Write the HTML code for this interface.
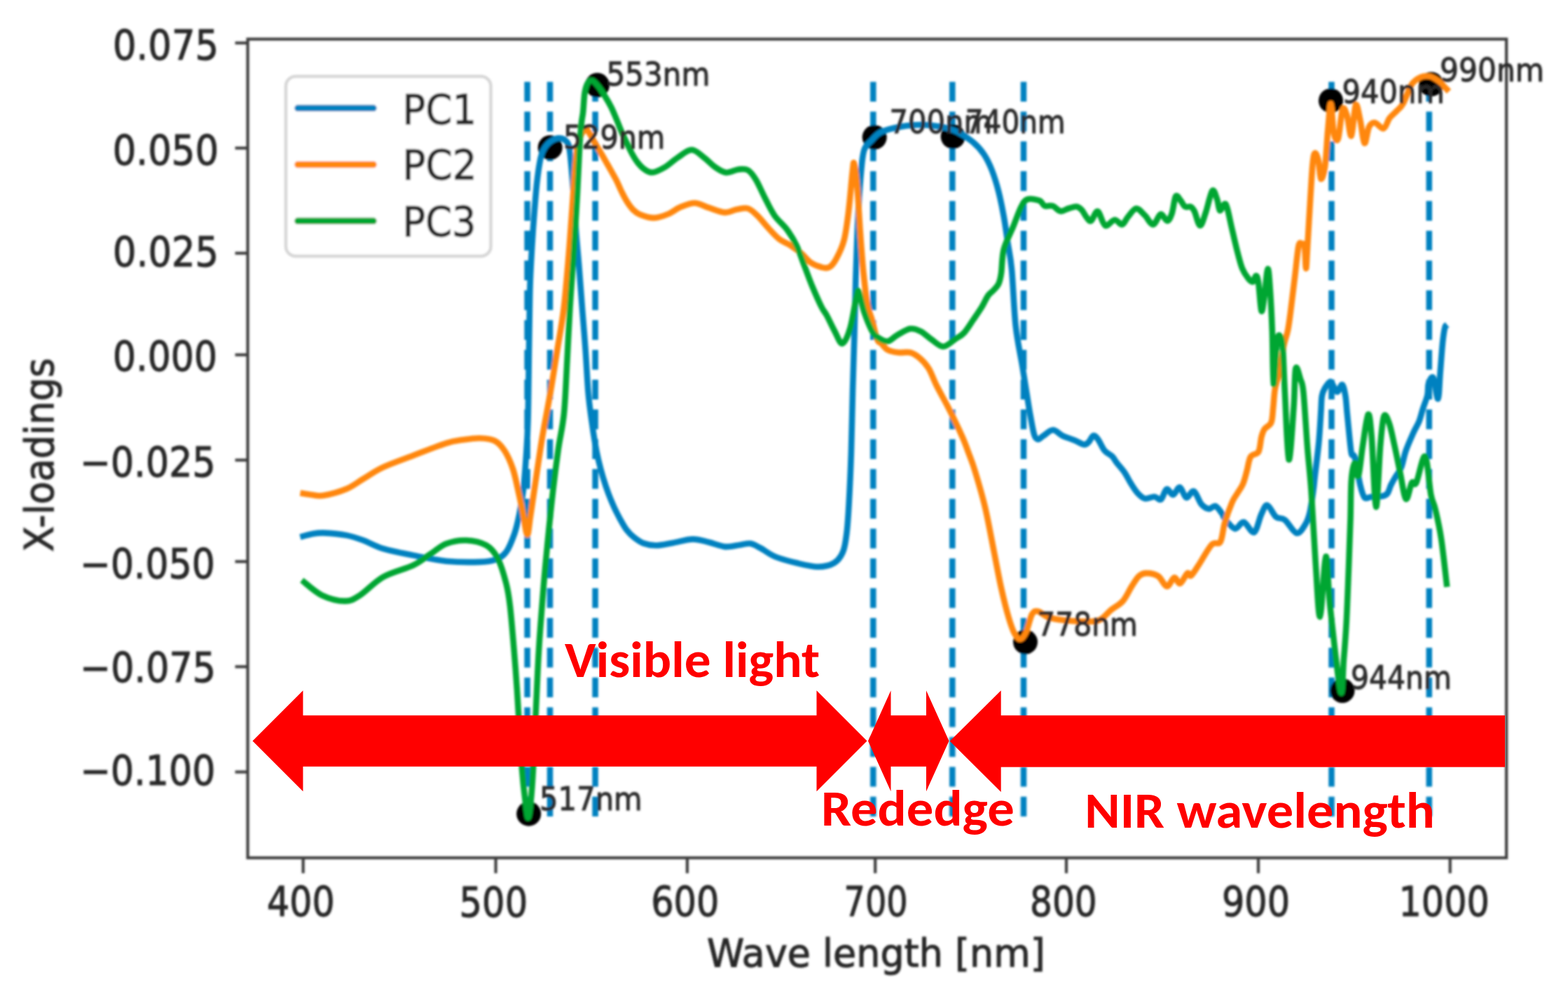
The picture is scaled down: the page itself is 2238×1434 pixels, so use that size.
<!DOCTYPE html>
<html><head><meta charset="utf-8"><title>X-loadings</title>
<style>html,body{margin:0;padding:0;background:#fff;}body{width:2238px;height:1434px;overflow:hidden;}svg{display:block;}</style>
</head><body>
<svg width="2238" height="1434" viewBox="0 0 2238 1434">
<defs><filter id="bl" x="-2%" y="-2%" width="104%" height="104%"><feGaussianBlur stdDeviation="1.5"/></filter></defs>
<rect width="2238" height="1434" fill="#fff"/>
<g filter="url(#bl)">
<line x1="752.6" y1="1165" x2="752.6" y2="114" stroke="#0581c0" stroke-width="8.5" stroke-dasharray="28.2 14.3"/>
<line x1="785.0" y1="1165" x2="785.0" y2="114" stroke="#0581c0" stroke-width="8.5" stroke-dasharray="28.2 14.3"/>
<line x1="849.6" y1="1165" x2="849.6" y2="114" stroke="#0581c0" stroke-width="8.5" stroke-dasharray="28.2 14.3"/>
<line x1="1246.3" y1="1165" x2="1246.3" y2="114" stroke="#0581c0" stroke-width="8.5" stroke-dasharray="28.2 14.3"/>
<line x1="1359.3" y1="1165" x2="1359.3" y2="114" stroke="#0581c0" stroke-width="8.5" stroke-dasharray="28.2 14.3"/>
<line x1="1461.0" y1="1165" x2="1461.0" y2="114" stroke="#0581c0" stroke-width="8.5" stroke-dasharray="28.2 14.3"/>
<line x1="1900.5" y1="1165" x2="1900.5" y2="114" stroke="#0581c0" stroke-width="8.5" stroke-dasharray="28.2 14.3"/>
<line x1="2039.8" y1="1165" x2="2039.8" y2="114" stroke="#0581c0" stroke-width="8.5" stroke-dasharray="28.2 14.3"/>
<circle cx="754.7" cy="1161.2" r="17.5" fill="#000"/>
<circle cx="785.2" cy="210.5" r="17.5" fill="#000"/>
<circle cx="852.5" cy="121.5" r="17.5" fill="#000"/>
<circle cx="1248.2" cy="195.9" r="17.5" fill="#000"/>
<circle cx="1360.2" cy="194.9" r="17.5" fill="#000"/>
<circle cx="1463.5" cy="916" r="17.5" fill="#000"/>
<circle cx="1899.5" cy="143.7" r="17.5" fill="#000"/>
<circle cx="1916" cy="985.5" r="17.5" fill="#000"/>
<circle cx="2042.7" cy="120.2" r="17.5" fill="#000"/>
<path d="M428.5,766.3 C431.2,765.6 439.5,763.0 445.0,762.0 C450.5,761.0 453.3,760.1 461.6,760.4 C469.9,760.7 485.3,762.1 494.8,763.9 C504.3,765.7 509.9,767.8 518.6,771.0 C527.3,774.2 535.1,779.3 547.0,782.9 C558.9,786.5 574.7,789.4 589.7,792.4 C604.7,795.4 621.3,799.1 637.1,800.7 C652.9,802.3 672.6,802.3 684.5,801.9 C696.4,801.5 701.9,800.7 708.2,798.3 C714.5,795.9 718.1,793.7 722.5,787.6 C726.9,781.5 731.2,770.3 734.3,761.5 C737.4,752.7 738.9,745.2 741.0,735.0 C743.1,724.8 745.1,714.2 746.8,700.0 C748.5,685.8 749.9,666.7 751.0,650.0 C752.1,633.3 752.8,625.0 753.5,600.0 C754.2,575.0 754.6,526.7 755.0,500.0 C755.4,473.3 755.6,456.7 755.9,440.0 C756.2,423.3 756.2,415.0 756.8,400.0 C757.4,385.0 758.4,366.7 759.4,350.0 C760.4,333.3 761.7,315.0 762.9,300.0 C764.1,285.0 765.1,271.7 766.4,260.0 C767.7,248.3 769.3,237.5 770.7,230.0 C772.1,222.5 773.1,219.2 775.0,215.0 C776.9,210.8 779.4,207.7 782.0,205.0 C784.6,202.3 788.1,200.3 790.7,199.0 C793.3,197.7 795.3,197.0 797.7,197.0 C800.1,197.0 802.7,197.3 805.0,199.0 C807.3,200.7 810.0,201.6 811.7,207.4 C813.4,213.2 814.0,222.0 815.1,233.6 C816.2,245.2 817.4,261.0 818.6,277.0 C819.8,293.0 820.8,312.1 822.1,329.4 C823.4,346.7 825.0,362.6 826.5,381.0 C828.0,399.4 829.5,420.2 831.0,440.0 C832.5,459.8 834.3,480.0 835.7,500.0 C837.1,520.0 838.2,543.3 839.6,560.0 C841.0,576.7 842.8,588.0 844.4,600.0 C846.0,612.0 847.7,622.8 849.3,632.2 C850.9,641.6 852.2,648.3 854.1,656.3 C856.0,664.3 858.1,672.4 860.5,680.4 C862.9,688.4 865.8,697.3 868.5,704.5 C871.2,711.7 873.8,717.8 876.5,723.7 C879.2,729.6 881.6,734.4 884.6,739.8 C887.6,745.1 890.7,751.2 894.2,755.8 C897.7,760.3 901.4,763.9 905.4,767.1 C909.4,770.3 913.0,773.2 918.3,775.1 C923.5,777.0 929.9,778.4 936.9,778.3 C943.9,778.2 951.5,776.2 960.1,774.7 C968.7,773.2 980.1,769.5 988.7,769.4 C997.3,769.2 1004.1,772.0 1011.9,773.8 C1019.6,775.6 1027.8,779.5 1035.2,780.1 C1042.7,780.7 1050.6,778.1 1056.6,777.4 C1062.5,776.6 1066.1,774.9 1070.9,775.6 C1075.7,776.4 1079.2,778.8 1085.2,781.9 C1091.2,785.0 1098.0,790.8 1106.6,794.4 C1115.2,798.0 1126.9,800.9 1137.0,803.3 C1147.1,805.7 1158.5,808.7 1167.4,808.7 C1176.3,808.7 1184.6,806.9 1190.6,803.3 C1196.6,799.7 1200.2,794.4 1203.2,787.2 C1206.2,780.1 1207.1,771.6 1208.5,760.4 C1209.9,749.2 1210.5,739.1 1211.6,720.0 C1212.7,700.9 1214.0,672.8 1214.9,645.5 C1215.8,618.2 1216.3,583.6 1217.1,556.0 C1217.8,528.4 1218.7,505.9 1219.4,480.0 C1220.1,454.1 1220.4,429.0 1221.3,400.9 C1222.2,372.8 1223.3,337.7 1224.6,311.6 C1225.9,285.6 1227.6,261.0 1229.1,244.6 C1230.6,228.2 1231.0,220.9 1233.6,213.4 C1236.2,205.9 1240.5,203.9 1244.5,199.7 C1248.5,195.5 1250.7,191.6 1257.6,188.4 C1264.5,185.2 1276.5,182.5 1285.9,180.8 C1295.3,179.1 1304.7,178.0 1314.1,178.0 C1323.5,178.0 1333.6,179.1 1342.4,180.8 C1351.2,182.5 1359.0,184.6 1366.8,188.4 C1374.6,192.2 1383.1,198.1 1389.4,203.4 C1395.7,208.7 1400.1,213.8 1404.5,220.4 C1408.9,227.0 1412.3,234.2 1415.8,243.0 C1419.2,251.8 1422.4,262.1 1425.2,273.1 C1428.0,284.1 1430.5,296.6 1432.7,308.8 C1434.9,321.0 1436.5,333.9 1438.4,346.5 C1440.3,359.1 1442.1,364.3 1444.0,384.1 C1445.9,403.9 1447.2,442.4 1449.7,465.3 C1452.2,488.2 1456.3,504.5 1459.1,521.8 C1461.9,539.0 1464.7,556.9 1466.6,568.8 C1468.5,580.7 1469.1,584.8 1470.7,593.4 C1472.3,602.0 1474.3,614.6 1476.1,620.2 C1477.9,625.8 1479.2,626.7 1481.4,626.9 C1483.6,627.1 1485.9,623.8 1489.5,621.6 C1493.1,619.4 1498.4,613.5 1502.9,613.5 C1507.4,613.5 1511.2,619.1 1516.3,621.6 C1521.4,624.1 1528.6,626.2 1533.7,628.3 C1538.8,630.4 1543.8,633.9 1547.1,634.3 C1550.4,634.7 1551.6,633.0 1553.8,630.9 C1556.0,628.8 1558.3,622.3 1560.5,621.6 C1562.7,620.9 1564.5,623.3 1567.2,626.9 C1569.9,630.5 1573.2,639.0 1576.6,643.0 C1579.9,647.0 1584.4,648.1 1587.3,651.0 C1590.2,653.9 1591.1,656.6 1594.0,660.4 C1596.9,664.2 1601.4,668.9 1604.8,673.8 C1608.2,678.7 1611.1,685.0 1614.2,689.9 C1617.3,694.8 1620.2,699.7 1623.5,703.3 C1626.8,706.9 1630.3,710.5 1634.3,711.4 C1638.3,712.3 1643.9,708.5 1647.7,708.7 C1651.5,708.9 1654.1,714.5 1657.0,712.7 C1659.9,710.9 1662.2,699.1 1665.1,698.0 C1668.0,696.9 1671.4,706.5 1674.5,706.0 C1677.6,705.5 1680.8,694.6 1683.9,695.3 C1687.0,696.0 1689.9,709.0 1693.2,710.0 C1696.5,711.0 1700.4,699.4 1704.0,701.0 C1707.6,702.6 1711.1,715.2 1714.7,719.4 C1718.3,723.6 1722.1,725.6 1725.4,726.1 C1728.8,726.6 1731.7,721.0 1734.8,722.1 C1737.9,723.2 1742.0,729.8 1744.2,732.8 C1746.4,735.8 1744.9,736.4 1748.0,740.0 C1751.1,743.6 1758.2,753.6 1762.7,754.4 C1767.2,755.2 1770.8,744.1 1775.3,745.0 C1779.8,745.9 1785.7,761.5 1789.9,759.6 C1794.1,757.7 1797.2,740.0 1800.4,733.5 C1803.6,727.0 1805.3,720.2 1808.8,720.9 C1812.3,721.6 1817.1,734.1 1821.3,737.6 C1825.5,741.1 1829.0,737.9 1833.9,741.8 C1838.8,745.6 1845.7,759.7 1850.6,760.7 C1855.5,761.8 1860.0,753.0 1863.1,748.1 C1866.2,743.2 1867.5,739.4 1869.4,731.4 C1871.3,723.4 1873.3,708.6 1874.5,700.0 C1875.7,691.4 1875.4,691.4 1876.7,680.0 C1878.0,668.6 1880.9,646.6 1882.3,631.6 C1883.7,616.6 1884.5,601.1 1885.2,590.0 C1886.0,578.9 1885.8,571.1 1886.8,565.0 C1887.8,558.9 1889.2,556.9 1891.2,553.5 C1893.2,550.1 1896.8,544.5 1899.0,544.5 C1901.2,544.5 1902.9,551.1 1904.6,553.5 C1906.3,555.9 1907.2,559.8 1909.1,559.0 C1911.0,558.2 1913.9,548.1 1915.8,549.0 C1917.7,549.9 1919.2,558.3 1920.3,564.6 C1921.4,570.9 1921.8,579.5 1922.5,587.0 C1923.2,594.5 1924.0,601.9 1924.7,609.3 C1925.4,616.7 1926.2,625.1 1926.9,631.6 C1927.7,638.1 1928.1,644.7 1929.2,648.3 C1930.3,651.9 1931.8,645.7 1933.8,653.0 C1935.8,660.3 1939.1,682.5 1941.4,692.0 C1943.7,701.5 1945.0,707.2 1947.6,710.0 C1950.2,712.8 1952.8,709.3 1957.0,709.0 C1961.2,708.7 1968.8,708.8 1972.7,708.0 C1976.6,707.2 1978.2,706.7 1980.3,704.0 C1982.4,701.3 1983.4,695.9 1985.3,692.0 C1987.2,688.1 1989.1,684.8 1991.6,680.6 C1994.0,676.4 1997.5,673.3 2000.0,667.0 C2002.5,660.7 2003.8,651.0 2006.7,642.8 C2009.6,634.6 2014.1,624.7 2017.2,617.7 C2020.3,610.7 2023.4,606.5 2025.6,600.9 C2027.8,595.3 2028.6,590.3 2030.6,584.2 C2032.5,578.1 2035.9,570.2 2037.3,564.1 C2038.7,558.0 2037.6,551.6 2039.0,547.4 C2040.4,543.2 2043.5,535.4 2045.7,539.0 C2047.9,542.6 2050.7,570.5 2052.4,569.1 C2054.1,567.7 2054.6,544.0 2055.7,530.6 C2056.8,517.2 2058.0,499.4 2059.1,488.8 C2060.2,478.2 2061.3,471.2 2062.4,467.0 C2063.5,462.8 2065.2,464.2 2065.8,463.7" fill="none" stroke="#0581c0" stroke-width="8.6" stroke-linejoin="round" stroke-linecap="butt"/>
<path d="M428.5,703.5 C431.2,703.9 439.5,705.4 445.0,706.0 C450.5,706.6 453.3,708.4 461.6,707.0 C469.9,705.6 485.3,701.5 494.8,697.5 C504.3,693.5 509.9,688.4 518.6,683.3 C527.3,678.2 535.1,672.2 547.0,666.7 C558.9,661.2 574.7,655.8 589.7,650.1 C604.7,644.4 625.2,636.0 637.1,632.3 C649.0,628.5 652.9,628.8 660.8,627.6 C668.7,626.4 677.0,625.0 684.5,625.2 C692.0,625.4 700.0,625.8 705.9,628.8 C711.8,631.8 715.8,636.3 720.1,643.0 C724.5,649.7 728.9,659.9 732.0,669.0 C735.1,678.1 736.7,687.3 739.0,697.5 C741.3,707.7 743.8,719.1 746.0,730.0 C748.2,740.9 750.7,761.8 752.5,763.0 C754.3,764.2 755.3,747.5 757.0,737.0 C758.7,726.5 759.7,718.6 762.5,700.0 C765.3,681.4 769.9,648.8 773.7,625.5 C777.6,602.2 782.0,580.9 785.6,560.0 C789.2,539.1 792.1,520.0 795.3,500.0 C798.5,480.0 802.0,462.6 804.7,440.0 C807.4,417.4 809.7,388.4 811.7,364.2 C813.7,339.9 815.5,313.5 816.9,294.5 C818.3,275.5 818.9,263.2 820.0,250.0 C821.1,236.8 822.2,224.0 823.5,215.0 C824.8,206.0 826.4,200.8 828.0,196.0 C829.6,191.2 831.5,188.4 833.0,186.5 C834.5,184.6 835.6,183.9 837.0,184.5 C838.4,185.1 839.0,186.5 841.2,190.0 C843.4,193.5 847.1,200.4 850.1,205.5 C853.1,210.6 856.0,215.4 859.0,220.5 C862.0,225.6 864.5,230.1 867.9,236.0 C871.2,241.9 875.9,249.9 879.1,256.0 C882.3,262.1 884.3,267.6 886.9,272.8 C889.5,278.0 891.9,283.0 894.7,287.4 C897.5,291.8 900.4,296.0 903.5,299.1 C906.6,302.2 908.2,304.0 913.2,306.0 C918.2,308.0 926.9,311.0 933.7,310.9 C940.5,310.8 947.5,308.0 953.8,305.4 C960.1,302.8 965.3,297.9 971.6,295.3 C977.9,292.7 985.0,289.5 991.7,289.7 C998.4,289.9 1004.7,294.2 1011.8,296.4 C1018.9,298.6 1027.4,302.7 1034.1,303.1 C1040.8,303.5 1046.4,299.6 1052.0,298.7 C1057.6,297.8 1062.8,296.0 1067.6,297.5 C1072.4,299.0 1076.2,303.0 1081.0,307.6 C1085.8,312.2 1091.4,319.8 1096.6,325.4 C1101.8,331.0 1107.0,337.0 1112.2,341.1 C1117.4,345.2 1122.7,346.6 1127.9,350.0 C1133.1,353.4 1138.7,357.1 1143.5,361.2 C1148.3,365.3 1152.1,371.2 1156.9,374.6 C1161.7,378.0 1168.0,380.2 1172.5,381.3 C1177.0,382.4 1180.2,383.2 1183.7,381.3 C1187.2,379.4 1189.9,376.0 1193.4,369.6 C1196.9,363.2 1201.6,354.4 1204.6,342.9 C1207.6,331.4 1209.3,316.8 1211.3,300.4 C1213.3,284.0 1215.5,255.8 1216.8,244.6 C1218.1,233.4 1218.0,229.8 1219.1,233.5 C1220.2,237.2 1222.0,250.3 1223.5,267.0 C1225.0,283.7 1226.5,313.4 1228.0,333.9 C1229.5,354.3 1230.8,372.9 1232.5,389.7 C1234.2,406.4 1236.0,423.2 1238.0,434.4 C1240.0,445.6 1242.4,448.4 1244.7,456.7 C1247.0,465.0 1249.8,478.5 1252.0,484.1 C1254.2,489.7 1255.6,487.7 1258.1,490.2 C1260.6,492.7 1263.1,497.1 1267.1,499.2 C1271.1,501.3 1276.8,502.4 1282.1,503.0 C1287.4,503.6 1294.1,501.8 1299.1,503.0 C1304.1,504.2 1307.8,506.8 1312.2,510.5 C1316.6,514.2 1321.3,518.9 1325.4,525.5 C1329.5,532.1 1332.3,541.2 1336.7,550.0 C1341.1,558.8 1347.4,569.8 1351.8,578.3 C1356.2,586.8 1359.3,593.0 1363.1,600.8 C1366.9,608.6 1371.2,617.9 1374.4,625.3 C1377.6,632.7 1379.2,637.3 1382.0,645.0 C1384.8,652.7 1387.4,658.3 1391.4,671.4 C1395.4,684.5 1401.5,704.5 1406.0,723.7 C1410.5,742.9 1414.8,767.3 1418.6,786.5 C1422.4,805.7 1425.5,823.1 1429.0,838.8 C1432.5,854.5 1436.3,869.8 1439.5,880.6 C1442.7,891.4 1445.1,898.5 1447.9,903.7 C1450.7,908.9 1453.5,912.4 1456.3,912.0 C1459.1,911.6 1461.8,907.5 1464.6,901.6 C1467.4,895.7 1470.2,881.4 1473.0,876.5 C1475.8,871.6 1477.6,871.6 1481.4,872.3 C1485.2,873.0 1490.1,878.5 1496.0,880.6 C1501.9,882.7 1508.2,883.8 1516.9,884.8 C1525.6,885.8 1539.6,886.9 1548.3,886.9 C1557.0,886.9 1562.9,887.6 1569.2,884.8 C1575.5,882.0 1580.4,874.7 1586.0,870.2 C1591.6,865.7 1597.8,863.2 1602.7,857.6 C1607.6,852.0 1611.5,842.6 1615.3,836.7 C1619.1,830.8 1622.2,825.1 1625.7,822.0 C1629.2,818.9 1631.7,817.9 1636.2,817.9 C1640.7,817.9 1648.0,818.9 1652.9,822.0 C1657.8,825.1 1661.7,836.4 1665.5,836.7 C1669.3,837.1 1672.9,824.8 1676.0,824.1 C1679.1,823.4 1681.2,833.5 1684.3,832.5 C1687.4,831.5 1692.2,819.8 1694.8,817.9 C1697.4,816.0 1697.4,823.2 1700.0,821.3 C1702.6,819.4 1705.6,814.0 1710.5,806.7 C1715.4,799.4 1724.1,783.0 1729.3,777.4 C1734.5,771.8 1738.7,778.4 1741.8,773.2 C1744.9,768.0 1745.3,755.4 1748.1,746.0 C1750.9,736.6 1755.7,723.6 1758.6,716.7 C1761.5,709.8 1763.0,709.0 1765.6,704.6 C1768.2,700.2 1771.7,696.0 1774.0,690.6 C1776.3,685.2 1777.7,679.0 1779.5,672.5 C1781.3,666.0 1782.3,656.2 1785.1,651.6 C1787.9,647.0 1793.8,649.2 1796.3,644.6 C1798.8,640.0 1799.0,629.1 1800.4,623.7 C1801.8,618.4 1802.3,616.0 1804.6,612.5 C1806.9,609.0 1812.3,607.9 1814.4,602.8 C1816.5,597.7 1816.3,589.9 1817.2,581.8 C1818.1,573.7 1818.4,563.1 1820.0,554.0 C1821.6,544.9 1824.9,537.6 1827.0,527.4 C1829.1,517.1 1830.7,501.7 1832.5,492.5 C1834.3,483.3 1836.4,479.9 1838.0,472.0 C1839.6,464.1 1840.3,458.2 1842.0,445.0 C1843.7,431.8 1846.5,408.4 1848.4,392.7 C1850.3,377.0 1851.9,358.4 1853.5,351.0 C1855.1,343.6 1856.6,347.8 1858.0,348.0 C1859.4,348.2 1861.0,346.2 1862.0,352.0 C1863.0,357.8 1863.3,382.5 1864.0,383.0 C1864.7,383.5 1865.0,371.5 1866.0,355.0 C1867.0,338.5 1868.9,304.2 1870.2,284.0 C1871.5,263.8 1872.5,244.4 1873.6,233.5 C1874.7,222.6 1875.5,219.0 1876.9,218.4 C1878.3,217.8 1880.6,224.0 1882.0,230.2 C1883.4,236.3 1883.8,254.0 1885.3,255.3 C1886.8,256.6 1889.4,249.4 1891.1,237.8 C1892.8,226.2 1893.9,200.5 1895.3,185.5 C1896.7,170.5 1898.1,147.1 1899.5,147.8 C1900.9,148.5 1902.0,181.3 1903.7,189.7 C1905.4,198.1 1907.8,203.6 1909.9,198.0 C1912.0,192.4 1914.1,161.8 1916.2,156.2 C1918.3,150.6 1920.4,158.3 1922.5,164.6 C1924.6,170.9 1926.7,196.3 1928.8,193.9 C1930.9,191.5 1932.9,153.7 1935.0,149.9 C1937.1,146.1 1939.2,161.8 1941.3,170.9 C1943.4,180.0 1945.5,202.6 1947.6,204.3 C1949.7,206.0 1951.5,186.2 1953.9,181.3 C1956.3,176.4 1958.7,174.7 1962.2,175.0 C1965.7,175.3 1971.3,184.4 1974.8,183.4 C1978.3,182.4 1980.0,173.0 1983.1,168.8 C1986.2,164.6 1990.3,161.8 1993.6,158.3 C1996.8,154.8 1999.0,154.2 2002.6,147.8 C2006.2,141.5 2010.9,126.5 2015.1,120.2 C2019.3,113.9 2023.5,112.1 2027.7,110.2 C2031.9,108.3 2036.0,108.1 2040.2,108.9 C2044.4,109.7 2049.4,112.9 2052.8,115.2 C2056.2,117.5 2058.0,120.2 2060.5,122.7 C2063.0,125.2 2066.8,129.2 2068.0,130.5" fill="none" stroke="#ff870e" stroke-width="8.6" stroke-linejoin="round" stroke-linecap="butt"/>
<path d="M430.8,827.9 C435.6,831.5 449.0,844.3 459.3,849.3 C469.6,854.2 483.4,857.6 492.5,857.6 C501.6,857.6 504.7,855.0 513.8,849.3 C522.9,843.6 534.4,830.3 547.0,823.2 C559.6,816.1 578.6,811.9 589.7,806.6 C600.8,801.3 605.5,796.3 613.4,791.2 C621.3,786.1 628.4,779.2 637.1,775.8 C645.8,772.4 656.1,770.6 665.6,771.0 C675.1,771.4 686.5,773.8 694.0,778.1 C701.5,782.5 705.9,788.0 710.6,797.1 C715.4,806.2 719.6,821.4 722.5,832.7 C725.4,844.0 726.2,849.5 728.0,865.0 C729.8,880.5 731.8,905.5 733.5,925.5 C735.2,945.5 736.1,956.5 738.0,985.0 C739.9,1013.5 743.0,1070.0 745.0,1096.7 C747.0,1123.4 748.5,1133.3 750.0,1145.0 C751.5,1156.7 752.5,1167.0 753.7,1167.0 C755.0,1167.0 756.3,1156.7 757.5,1145.0 C758.7,1133.3 759.7,1120.9 761.0,1096.7 C762.3,1072.5 764.1,1028.5 765.5,1000.0 C766.9,971.5 767.5,952.8 769.2,925.5 C770.9,898.2 773.8,862.1 775.9,836.2 C778.0,810.3 779.8,792.7 782.0,770.0 C784.2,747.3 786.8,721.7 789.3,700.0 C791.8,678.3 794.4,658.3 797.0,640.0 C799.6,621.7 802.9,611.0 805.0,590.0 C807.1,569.0 808.1,538.9 809.5,513.9 C810.9,488.9 811.9,464.9 813.4,440.0 C814.9,415.1 816.9,391.4 818.6,364.2 C820.4,337.0 822.5,303.1 823.9,277.0 C825.3,250.9 826.3,224.4 827.3,207.4 C828.3,190.4 829.2,182.9 830.0,175.0 C830.8,167.1 831.5,167.0 832.2,160.0 C833.0,153.0 833.4,139.9 834.5,133.0 C835.6,126.1 837.0,121.5 838.9,118.5 C840.8,115.5 843.0,114.2 845.6,115.1 C848.2,116.0 851.6,120.3 854.6,124.0 C857.6,127.7 860.5,132.6 863.5,137.4 C866.5,142.2 869.6,147.4 872.4,153.0 C875.2,158.6 877.6,164.8 880.2,170.9 C882.8,177.1 885.4,184.0 888.0,189.9 C890.6,195.8 893.4,201.6 895.8,206.6 C898.2,211.6 900.1,215.7 902.5,220.0 C904.9,224.3 907.6,228.8 910.4,232.3 C913.2,235.8 915.8,238.9 919.3,241.2 C922.8,243.5 926.4,246.5 931.4,246.0 C936.4,245.5 943.3,241.9 949.3,238.4 C955.2,234.9 960.8,229.1 967.1,225.0 C973.4,220.9 980.9,213.8 987.2,213.8 C993.5,213.8 999.5,220.9 1005.1,225.0 C1010.7,229.1 1015.5,234.9 1020.7,238.4 C1025.9,241.9 1030.7,245.6 1036.3,246.2 C1041.9,246.8 1049.0,242.2 1054.2,241.7 C1059.4,241.1 1063.5,240.5 1067.6,242.9 C1071.7,245.3 1074.7,249.6 1078.8,256.3 C1082.9,263.0 1087.6,274.4 1092.1,283.0 C1096.5,291.6 1100.3,300.2 1105.5,307.6 C1110.7,315.1 1118.2,320.6 1123.4,327.7 C1128.6,334.8 1132.7,341.4 1136.8,350.0 C1140.9,358.6 1144.3,369.3 1148.0,379.0 C1151.7,388.7 1155.0,398.2 1159.1,408.0 C1163.2,417.8 1169.0,430.9 1172.5,437.9 C1176.0,444.9 1176.9,444.3 1180.0,450.0 C1183.1,455.7 1187.5,465.6 1191.2,472.3 C1194.9,479.0 1198.6,490.9 1202.3,490.2 C1206.0,489.5 1210.2,479.1 1213.5,467.9 C1216.8,456.7 1220.4,431.8 1222.4,423.2 C1224.5,414.6 1223.9,412.8 1225.8,416.5 C1227.7,420.2 1230.4,436.2 1233.6,445.5 C1236.8,454.8 1241.3,466.2 1244.7,472.3 C1248.1,478.4 1250.2,479.8 1253.9,482.2 C1257.6,484.6 1262.6,487.6 1267.0,487.0 C1271.4,486.4 1274.9,481.5 1280.2,478.5 C1285.5,475.5 1293.4,470.1 1299.1,469.1 C1304.8,468.2 1309.1,470.3 1314.1,472.8 C1319.1,475.3 1323.9,480.5 1329.2,484.1 C1334.5,487.7 1340.4,494.5 1346.1,494.5 C1351.8,494.5 1358.1,487.4 1363.1,484.1 C1368.1,480.8 1371.8,479.4 1376.2,474.7 C1380.6,470.0 1385.3,461.8 1389.4,455.9 C1393.5,449.9 1397.2,444.6 1400.7,439.0 C1404.2,433.4 1407.3,426.1 1410.1,422.0 C1412.9,417.9 1415.2,417.3 1417.7,414.5 C1420.2,411.7 1423.3,409.2 1425.2,405.1 C1427.1,401.0 1427.8,398.2 1429.0,390.0 C1430.2,381.8 1429.9,366.9 1432.7,355.9 C1435.5,344.9 1441.8,333.9 1445.9,323.9 C1450.0,313.9 1453.8,302.3 1457.2,295.7 C1460.7,289.1 1462.2,286.0 1466.6,284.4 C1471.0,282.8 1479.5,284.7 1483.6,286.3 C1487.7,287.9 1488.0,292.6 1491.1,293.8 C1494.2,295.1 1498.6,292.6 1502.4,293.8 C1506.2,295.1 1509.9,300.7 1513.7,301.3 C1517.5,301.9 1521.2,298.6 1525.0,297.5 C1528.8,296.4 1533.2,294.4 1536.3,294.7 C1539.4,295.0 1541.3,296.7 1543.8,299.4 C1546.3,302.1 1549.0,308.1 1551.3,310.7 C1553.6,313.3 1554.8,316.6 1557.4,315.1 C1560.0,313.6 1563.5,300.6 1566.8,301.7 C1570.1,302.8 1573.5,319.8 1577.5,321.8 C1581.5,323.8 1586.9,313.9 1590.9,313.7 C1594.9,313.5 1598.6,321.1 1601.7,320.4 C1604.8,319.7 1606.4,313.5 1609.7,309.7 C1613.0,305.9 1617.8,298.1 1621.8,297.6 C1625.8,297.2 1629.8,303.2 1633.8,307.0 C1637.8,310.8 1642.1,320.6 1645.9,320.4 C1649.7,320.2 1653.2,306.6 1656.6,305.7 C1659.9,304.8 1663.3,315.3 1666.0,315.1 C1668.7,314.9 1670.7,310.1 1672.7,304.3 C1674.7,298.5 1676.1,283.3 1678.1,280.2 C1680.1,277.1 1682.6,283.1 1684.8,285.6 C1687.0,288.1 1689.0,293.4 1691.5,295.0 C1694.0,296.6 1697.3,293.9 1699.5,295.0 C1701.7,296.1 1702.7,297.2 1704.9,301.7 C1707.1,306.2 1710.2,321.6 1712.9,321.8 C1715.6,322.0 1718.1,311.3 1721.0,303.0 C1723.9,294.7 1727.6,275.3 1730.3,272.2 C1733.0,269.1 1735.3,279.5 1737.1,284.2 C1738.9,288.9 1739.3,299.2 1741.1,300.3 C1742.9,301.4 1746.0,291.3 1747.8,290.9 C1749.6,290.4 1750.0,291.6 1751.8,297.6 C1753.6,303.6 1756.0,316.6 1758.5,327.1 C1761.0,337.6 1764.0,351.2 1766.5,360.6 C1769.0,370.0 1770.7,377.4 1773.2,383.4 C1775.7,389.4 1778.8,393.7 1781.3,396.8 C1783.8,399.9 1786.1,402.8 1788.0,402.2 C1789.9,401.6 1791.4,393.1 1792.8,393.5 C1794.2,393.9 1795.0,396.2 1796.3,404.6 C1797.6,413.0 1799.0,440.7 1800.4,443.7 C1801.8,446.7 1803.1,432.8 1804.6,422.8 C1806.1,412.8 1808.1,384.9 1809.5,383.7 C1810.9,382.5 1812.0,401.1 1813.0,415.8 C1814.0,430.5 1815.0,449.5 1815.8,471.6 C1816.6,493.7 1816.7,546.0 1817.9,548.3 C1819.1,550.6 1821.1,496.7 1822.8,485.5 C1824.5,474.3 1826.9,479.0 1828.3,481.3 C1829.7,483.6 1830.2,486.4 1831.1,499.5 C1832.0,512.6 1832.5,534.0 1833.9,560.0 C1835.3,586.0 1837.4,652.2 1839.5,655.8 C1841.6,659.4 1844.9,603.4 1846.5,581.8 C1848.1,560.2 1847.7,532.8 1849.3,526.0 C1850.9,519.2 1854.3,535.6 1856.2,541.3 C1858.1,547.0 1858.8,544.0 1860.4,560.0 C1862.0,576.0 1864.2,614.3 1866.0,637.6 C1867.8,660.9 1869.5,672.2 1871.5,700.0 C1873.5,727.8 1875.7,774.6 1877.8,804.6 C1879.9,834.6 1881.7,881.6 1884.1,879.9 C1886.5,878.1 1890.0,796.2 1892.4,794.1 C1894.8,792.0 1895.2,835.2 1898.7,867.3 C1902.2,899.4 1910.1,974.5 1913.3,986.6 C1916.5,998.7 1916.6,956.4 1918.0,940.0 C1919.4,923.6 1920.5,909.9 1921.7,888.2 C1922.9,866.5 1924.0,834.7 1925.0,810.0 C1926.0,785.3 1926.9,760.7 1927.5,740.0 C1928.1,719.3 1927.8,698.9 1928.8,685.6 C1929.8,672.4 1932.1,661.5 1933.8,660.5 C1935.5,659.5 1936.9,683.5 1938.8,679.3 C1940.7,675.1 1942.8,650.0 1945.1,635.4 C1947.4,620.8 1950.6,593.5 1952.7,591.4 C1954.8,589.3 1955.8,600.8 1957.7,622.8 C1959.6,644.8 1961.9,721.2 1964.0,723.3 C1966.1,725.4 1968.3,657.0 1970.2,635.4 C1972.1,613.8 1973.2,599.1 1975.3,593.9 C1977.4,588.7 1980.3,597.1 1982.8,604.0 C1985.3,610.9 1987.7,623.7 1990.3,635.4 C1992.9,647.1 1995.7,661.5 1998.4,674.2 C2001.1,687.0 2003.9,709.5 2006.7,711.9 C2009.5,714.3 2012.6,692.6 2015.1,688.8 C2017.5,684.9 2018.2,695.1 2021.4,688.8 C2024.6,682.5 2030.5,648.4 2034.0,651.2 C2037.5,654.0 2039.9,693.1 2042.3,705.6 C2044.7,718.1 2046.1,716.0 2048.6,726.5 C2051.0,737.0 2054.2,749.9 2057.0,768.4 C2059.8,786.9 2063.9,825.9 2065.3,837.4" fill="none" stroke="#04a632" stroke-width="8.6" stroke-linejoin="round" stroke-linecap="butt"/>
<rect x="353.6" y="55.8" width="1796.5" height="1168.2" fill="none" stroke="#3c3c3c" stroke-width="4.2"/>
<line x1="335.6" y1="61.3" x2="353.6" y2="61.3" stroke="#3c3c3c" stroke-width="4.2"/>
<line x1="335.6" y1="211.3" x2="353.6" y2="211.3" stroke="#3c3c3c" stroke-width="4.2"/>
<line x1="335.6" y1="361.3" x2="353.6" y2="361.3" stroke="#3c3c3c" stroke-width="4.2"/>
<line x1="335.6" y1="506.3" x2="353.6" y2="506.3" stroke="#3c3c3c" stroke-width="4.2"/>
<line x1="335.6" y1="656.5" x2="353.6" y2="656.5" stroke="#3c3c3c" stroke-width="4.2"/>
<line x1="335.6" y1="801.3" x2="353.6" y2="801.3" stroke="#3c3c3c" stroke-width="4.2"/>
<line x1="335.6" y1="951.3" x2="353.6" y2="951.3" stroke="#3c3c3c" stroke-width="4.2"/>
<line x1="335.6" y1="1101.5" x2="353.6" y2="1101.5" stroke="#3c3c3c" stroke-width="4.2"/>
<line x1="432.7" y1="1224.0" x2="432.7" y2="1246.0" stroke="#3c3c3c" stroke-width="4.2"/>
<line x1="707.6" y1="1224.0" x2="707.6" y2="1246.0" stroke="#3c3c3c" stroke-width="4.2"/>
<line x1="980.9" y1="1224.0" x2="980.9" y2="1246.0" stroke="#3c3c3c" stroke-width="4.2"/>
<line x1="1249.2" y1="1224.0" x2="1249.2" y2="1246.0" stroke="#3c3c3c" stroke-width="4.2"/>
<line x1="1522" y1="1224.0" x2="1522" y2="1246.0" stroke="#3c3c3c" stroke-width="4.2"/>
<line x1="1796" y1="1224.0" x2="1796" y2="1246.0" stroke="#3c3c3c" stroke-width="4.2"/>
<line x1="2069.7" y1="1224.0" x2="2069.7" y2="1246.0" stroke="#3c3c3c" stroke-width="4.2"/>
<text x="160.9" y="84.9" font-family="'DejaVu Sans', 'Liberation Sans', sans-serif" stroke="#262626" stroke-width="1.1" font-size="58" fill="#262626" textLength="151.3" lengthAdjust="spacingAndGlyphs">0.075</text>
<text x="160.7" y="234.9" font-family="'DejaVu Sans', 'Liberation Sans', sans-serif" stroke="#262626" stroke-width="1.1" font-size="58" fill="#262626" textLength="151.4" lengthAdjust="spacingAndGlyphs">0.050</text>
<text x="161.1" y="379.6" font-family="'DejaVu Sans', 'Liberation Sans', sans-serif" stroke="#262626" stroke-width="1.1" font-size="58" fill="#262626" textLength="150.9" lengthAdjust="spacingAndGlyphs">0.025</text>
<text x="161.1" y="529.1" font-family="'DejaVu Sans', 'Liberation Sans', sans-serif" stroke="#262626" stroke-width="1.1" font-size="58" fill="#262626" textLength="148.9" lengthAdjust="spacingAndGlyphs">0.000</text>
<text x="114.3" y="679.7" font-family="'DejaVu Sans', 'Liberation Sans', sans-serif" stroke="#262626" stroke-width="1.1" font-size="58" fill="#262626" textLength="193.4" lengthAdjust="spacingAndGlyphs">−0.025</text>
<text x="114.3" y="824.8" font-family="'DejaVu Sans', 'Liberation Sans', sans-serif" stroke="#262626" stroke-width="1.1" font-size="58" fill="#262626" textLength="192.7" lengthAdjust="spacingAndGlyphs">−0.050</text>
<text x="114.3" y="973.4" font-family="'DejaVu Sans', 'Liberation Sans', sans-serif" stroke="#262626" stroke-width="1.1" font-size="58" fill="#262626" textLength="193.8" lengthAdjust="spacingAndGlyphs">−0.075</text>
<text x="114.4" y="1119.7" font-family="'DejaVu Sans', 'Liberation Sans', sans-serif" stroke="#262626" stroke-width="1.1" font-size="58" fill="#262626" textLength="193.0" lengthAdjust="spacingAndGlyphs">−0.100</text>
<text x="381.0" y="1306.9" font-family="'DejaVu Sans', 'Liberation Sans', sans-serif" stroke="#262626" stroke-width="1.1" font-size="58" fill="#262626" textLength="96.8" lengthAdjust="spacingAndGlyphs">400</text>
<text x="655.6" y="1307.7" font-family="'DejaVu Sans', 'Liberation Sans', sans-serif" stroke="#262626" stroke-width="1.1" font-size="58" fill="#262626" textLength="97.6" lengthAdjust="spacingAndGlyphs">500</text>
<text x="929.2" y="1307.1" font-family="'DejaVu Sans', 'Liberation Sans', sans-serif" stroke="#262626" stroke-width="1.1" font-size="58" fill="#262626" textLength="97.3" lengthAdjust="spacingAndGlyphs">600</text>
<text x="1204.5" y="1307.1" font-family="'DejaVu Sans', 'Liberation Sans', sans-serif" stroke="#262626" stroke-width="1.1" font-size="58" fill="#262626" textLength="91.3" lengthAdjust="spacingAndGlyphs">700</text>
<text x="1470.0" y="1307.0" font-family="'DejaVu Sans', 'Liberation Sans', sans-serif" stroke="#262626" stroke-width="1.1" font-size="58" fill="#262626" textLength="95.8" lengthAdjust="spacingAndGlyphs">800</text>
<text x="1743.9" y="1307.1" font-family="'DejaVu Sans', 'Liberation Sans', sans-serif" stroke="#262626" stroke-width="1.1" font-size="58" fill="#262626" textLength="97.3" lengthAdjust="spacingAndGlyphs">900</text>
<text x="1996.5" y="1307.1" font-family="'DejaVu Sans', 'Liberation Sans', sans-serif" stroke="#262626" stroke-width="1.1" font-size="58" fill="#262626" textLength="129.3" lengthAdjust="spacingAndGlyphs">1000</text>
<text x="1009.0" y="1379.3" font-family="'DejaVu Sans', 'Liberation Sans', sans-serif" stroke="#262626" stroke-width="1.1" font-size="55.5" fill="#262626" textLength="482.8" lengthAdjust="spacingAndGlyphs">Wave length [nm]</text>
<text x="770.1" y="1155.6" font-family="'DejaVu Sans', 'Liberation Sans', sans-serif" stroke="#2a2a2a" stroke-width="1.1" font-size="47" fill="#2a2a2a" textLength="146.6" lengthAdjust="spacingAndGlyphs">517nm</text>
<text x="803.9" y="211.5" font-family="'DejaVu Sans', 'Liberation Sans', sans-serif" stroke="#2a2a2a" stroke-width="1.1" font-size="47" fill="#2a2a2a" textLength="145.5" lengthAdjust="spacingAndGlyphs">529nm</text>
<text x="865.6" y="121.8" font-family="'DejaVu Sans', 'Liberation Sans', sans-serif" stroke="#2a2a2a" stroke-width="1.1" font-size="47" fill="#2a2a2a" textLength="147.8" lengthAdjust="spacingAndGlyphs">553nm</text>
<text x="1269.4" y="189.5" font-family="'DejaVu Sans', 'Liberation Sans', sans-serif" stroke="#2a2a2a" stroke-width="1.1" font-size="47" fill="#2a2a2a" textLength="146.7" lengthAdjust="spacingAndGlyphs">700nm</text>
<text x="1377.7" y="189.5" font-family="'DejaVu Sans', 'Liberation Sans', sans-serif" stroke="#2a2a2a" stroke-width="1.1" font-size="47" fill="#2a2a2a" textLength="143.0" lengthAdjust="spacingAndGlyphs">740nm</text>
<text x="1480.2" y="907.1" font-family="'DejaVu Sans', 'Liberation Sans', sans-serif" stroke="#2a2a2a" stroke-width="1.1" font-size="47" fill="#2a2a2a" textLength="143.6" lengthAdjust="spacingAndGlyphs">778nm</text>
<text x="1915.6" y="147.1" font-family="'DejaVu Sans', 'Liberation Sans', sans-serif" stroke="#2a2a2a" stroke-width="1.1" font-size="47" fill="#2a2a2a" textLength="146.2" lengthAdjust="spacingAndGlyphs">940nm</text>
<text x="1928.0" y="982.8" font-family="'DejaVu Sans', 'Liberation Sans', sans-serif" stroke="#2a2a2a" stroke-width="1.1" font-size="47" fill="#2a2a2a" textLength="143.9" lengthAdjust="spacingAndGlyphs">944nm</text>
<text x="2055.0" y="115.7" font-family="'DejaVu Sans', 'Liberation Sans', sans-serif" stroke="#2a2a2a" stroke-width="1.1" font-size="47" fill="#2a2a2a" textLength="149.2" lengthAdjust="spacingAndGlyphs">990nm</text>
<text x="0" y="0" transform="translate(76.0 787.3) rotate(-90)" font-family="'DejaVu Sans', 'Liberation Sans', sans-serif" font-size="57" fill="#262626" stroke="#262626" stroke-width="1.1" textLength="276.4" lengthAdjust="spacingAndGlyphs">X-loadings</text>
<rect x="408" y="109" width="292.5" height="256.5" rx="14" fill="#fff" fill-opacity="0.85" stroke="#d6d6d6" stroke-width="4.5"/>
<line x1="425" y1="154.3" x2="533" y2="154.3" stroke="#0581c0" stroke-width="9.5" stroke-linecap="round"/>
<text x="574.6" y="176.6" font-family="'DejaVu Sans', 'Liberation Sans', sans-serif" stroke="#262626" stroke-width="1.1" font-size="58" fill="#262626" textLength="105.5" lengthAdjust="spacingAndGlyphs">PC1</text>
<line x1="425" y1="234.8" x2="533" y2="234.8" stroke="#ff870e" stroke-width="9.5" stroke-linecap="round"/>
<text x="574.5" y="255.9" font-family="'DejaVu Sans', 'Liberation Sans', sans-serif" stroke="#262626" stroke-width="1.1" font-size="58" fill="#262626" textLength="106.1" lengthAdjust="spacingAndGlyphs">PC2</text>
<line x1="425" y1="315.3" x2="533" y2="315.3" stroke="#04a632" stroke-width="9.5" stroke-linecap="round"/>
<text x="574.6" y="336.6" font-family="'DejaVu Sans', 'Liberation Sans', sans-serif" stroke="#262626" stroke-width="1.1" font-size="58" fill="#262626" textLength="104.9" lengthAdjust="spacingAndGlyphs">PC3</text>
</g>
<path d="M360.5,1057.2 L432.5,985.2 L432.5,1020.7 L1165.5,1020.7 L1165.5,985.2 L1237.5,1057.2 L1165.5,1129.2 L1165.5,1093.7 L432.5,1093.7 L432.5,1129.2 Z" fill="#ff0000"/>
<path d="M1239,1057.2 L1271.5,985.2 L1271.5,1020.7 L1322.0,1020.7 L1322.0,985.2 L1354.5,1057.2 L1322.0,1129.2 L1322.0,1093.7 L1271.5,1093.7 L1271.5,1129.2 Z" fill="#ff0000"/>
<path d="M1355.7,1057.5 L1428.7,985.2 L1428.7,1020.8 L2148,1020.8 L2148,1094.6 L1428.7,1094.6 L1428.7,1130 Z" fill="#ff0000"/>
<text x="806.1" y="965.7" font-family="Carlito, 'Liberation Sans', Arial, sans-serif" font-weight="bold" style="font-size-adjust:0.485" font-size="73" fill="#ff0000" textLength="364.1" lengthAdjust="spacingAndGlyphs">Visible light</text>
<text x="1171.9" y="1178.4" font-family="Carlito, 'Liberation Sans', Arial, sans-serif" font-weight="bold" style="font-size-adjust:0.485" font-size="73" fill="#ff0000" textLength="275.9" lengthAdjust="spacingAndGlyphs">Rededge</text>
<text x="1548.3" y="1181.3" font-family="Carlito, 'Liberation Sans', Arial, sans-serif" font-weight="bold" style="font-size-adjust:0.485" font-size="73" fill="#ff0000" textLength="499.6" lengthAdjust="spacingAndGlyphs">NIR wavelength</text>
</svg>
</body></html>
